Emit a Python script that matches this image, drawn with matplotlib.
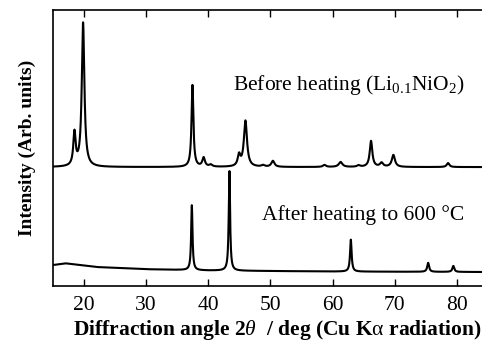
import numpy as np
import matplotlib
matplotlib.use("Agg")
import matplotlib.pyplot as plt

plt.rcParams['font.family'] = ['Liberation Serif', 'DejaVu Serif']
plt.rcParams['mathtext.fontset'] = 'custom'
plt.rcParams['mathtext.rm'] = 'Liberation Serif'
plt.rcParams['mathtext.it'] = 'Liberation Serif:italic'
plt.rcParams['mathtext.bf'] = 'Liberation Serif:bold'

# peak tables: position (deg), height (arb.), half width (deg)
before_pos = [18.45, 19.84, 37.45, 39.25, 40.4, 44.95, 45.98, 48.8, 50.4,
              58.7, 61.3, 64.2, 66.2, 67.9, 69.8, 78.6]
before_height = [33, 144, 82, 9, 2, 11, 46, 1.5, 6, 2, 5, 1.5, 26, 4, 12, 4]
before_hw = [0.22, 0.25, 0.18, 0.25, 0.3, 0.25, 0.3, 0.3, 0.3,
             0.3, 0.35, 0.3, 0.25, 0.3, 0.3, 0.25]
before_base = 119

after_pos = [37.35, 43.4, 62.95, 75.4, 79.45]
after_height = [65, 100, 32, 9, 6]
after_hw = [0.13, 0.13, 0.15, 0.18, 0.18]
after_bg_angle = [15, 17, 22, 30, 40, 60, 85]
after_bg_level = [21, 22.7, 19, 16.8, 15.5, 14.5, 14]

tt = np.linspace(15, 85, 3500)


def pattern(pos, height, hw):
    y = np.zeros_like(tt)
    for p, h, w in zip(pos, height, hw):
        y += h * w**2 / ((tt - p)**2 + w**2)
    return y


upper = before_base + pattern(before_pos, before_height, before_hw)
lower = np.interp(tt, after_bg_angle, after_bg_level) + pattern(after_pos, after_height, after_hw)

fig = plt.figure(figsize=(4.82, 3.45), dpi=100)
ax = fig.add_axes([0.110, 0.171, 0.902, 0.801])
ax.plot(tt, upper, color='black', lw=1.5)
ax.plot(tt, lower, color='black', lw=1.5)

ax.set_xlim(15, 85)
ax.set_ylim(0, 276.5)
ax.set_xticks([20, 30, 40, 50, 60, 70, 80])
ax.set_yticks([])
ax.tick_params(axis='x', direction='in', top=True, length=5, width=1, labelsize=15.5, pad=7)
for s in ax.spines.values():
    s.set_linewidth(1.2)

ax.text(62.6, 201, 'Before heating (Li$_{0.1}$NiO$_2$)', fontsize=15.5, ha='center', va='center')
ax.text(65.0, 71, 'After heating to 600 \u00b0C', fontsize=15.5, ha='center', va='center')

ax.set_xlabel('Diffraction angle 2$\\it{\\theta}$  / deg (Cu K$\\mathrm{\\alpha}$ radiation)',
              fontsize=15.5, fontweight='bold')
ax.xaxis.set_label_coords(0.515, -0.115)
ax.set_ylabel('Intensity (Arb. units)', fontsize=14, fontweight='bold', labelpad=12)

fig.savefig('out.png', dpi=100)
